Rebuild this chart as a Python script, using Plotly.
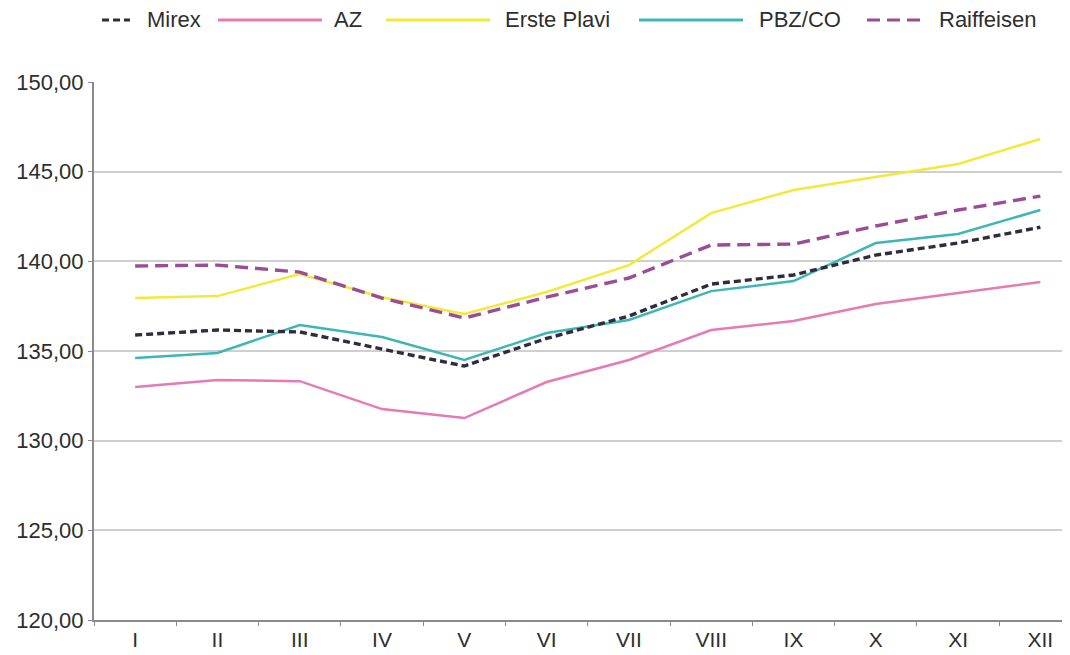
import plotly.graph_objects as go

months = ["I", "II", "III", "IV", "V", "VI", "VII", "VIII", "IX", "X", "XI", "XII"]
mirex = [135.89, 136.17, 136.06, 135.10, 134.16, 135.70, 136.95, 138.73, 139.24, 140.35, 141.02, 141.90]
az = [132.99, 133.38, 133.32, 131.76, 131.26, 133.27, 134.50, 136.17, 136.67, 137.62, 138.23, 138.85]
erste = [137.95, 138.06, 139.29, 138.00, 137.06, 138.29, 139.79, 142.69, 143.98, 144.70, 145.43, 146.82]
pbz = [134.61, 134.89, 136.45, 135.78, 134.50, 136.00, 136.73, 138.34, 138.90, 141.02, 141.52, 142.86]
raiff = [139.74, 139.79, 139.40, 137.95, 136.84, 138.00, 139.07, 140.91, 140.96, 141.97, 142.86, 143.64]

series = [
    ("Mirex", mirex, "#2e2c3d", "7px,4px"),
    ("AZ", az, "#e57ab5", "solid"),
    ("Erste Plavi", erste, "#f1ea3a", "solid"),
    ("PBZ/CO", pbz, "#3db6b6", "solid"),
    ("Raiffeisen", raiff, "#9a4c95", "13px,7px"),
]

FONT = "Liberation Sans, Arial, sans-serif"
TXT = "#2e2e2e"

# page body has an 8px margin: shift everything up/left by 8px
OFF = 8
FIG_W, FIG_H = 1070 - OFF, 655 - OFF
ML, MT, MB = 94 - OFF, 82 - OFF, 35
MR = 0

fig = go.Figure()
order = ["Erste Plavi", "AZ", "PBZ/CO", "Raiffeisen", "Mirex"]
lookup = {s[0]: s for s in series}
for name in order:
    n, vals, col, dash = lookup[name]
    fig.add_trace(go.Scatter(
        x=months, y=vals, mode="lines", name=n,
        line=dict(color=col, width=3.4 if dash != "solid" else 2.5, dash=dash),
        showlegend=False,
    ))

# custom legend (paper coords), from reference pixel positions
L, W = 94, 976
PLOT_BOTTOM, PH = 620, 538
def px(x):
    return (x - L) / W
ly = (PLOT_BOTTOM - 20) / PH
legend_items = [
    ("Mirex", 102, 130, 145),
    ("AZ", 218, 322, 332),
    ("Erste Plavi", 386, 490, 503),
    ("PBZ/CO", 639, 743, 757),
    ("Raiffeisen", 867, 923, 937),
]
for name, x0, x1, tx in legend_items:
    n, vals, col, dash = lookup[name]
    fig.add_shape(type="line", xref="paper", yref="paper",
                  x0=px(x0), x1=px(x1), y0=ly, y1=ly,
                  line=dict(color=col, width=3.2, dash=dash))
    fig.add_annotation(xref="paper", yref="paper", x=px(tx), y=ly,
                       text=n, showarrow=False, xanchor="left", yanchor="middle",
                       font=dict(family=FONT, size=22, color=TXT))

fig.update_layout(
    width=FIG_W, height=FIG_H,
    margin=dict(l=ML, r=MR, t=MT, b=MB, pad=0),
    paper_bgcolor="white", plot_bgcolor="white",
    separators=",.",
    font=dict(family=FONT, size=22, color=TXT),
    xaxis=dict(
        type="category", range=[-0.5, 11.36],
        showline=True, linecolor="#8a8a8a", linewidth=2,
        ticks="outside", ticklen=4, tickcolor="#8a8a8a", tickson="boundaries",
        showgrid=False, tickfont=dict(size=21, color=TXT),
    ),
    yaxis=dict(
        range=[120, 150], dtick=5, tickformat=".2f",
        showline=True, linecolor="#8a8a8a", linewidth=2,
        ticks="outside", ticklen=4, tickcolor="#8a8a8a",
        showgrid=True, gridcolor="#cfcfcf", gridwidth=2,
        zeroline=False, tickfont=dict(size=22, color=TXT),
    ),
)

fig.write_html("out.html")
